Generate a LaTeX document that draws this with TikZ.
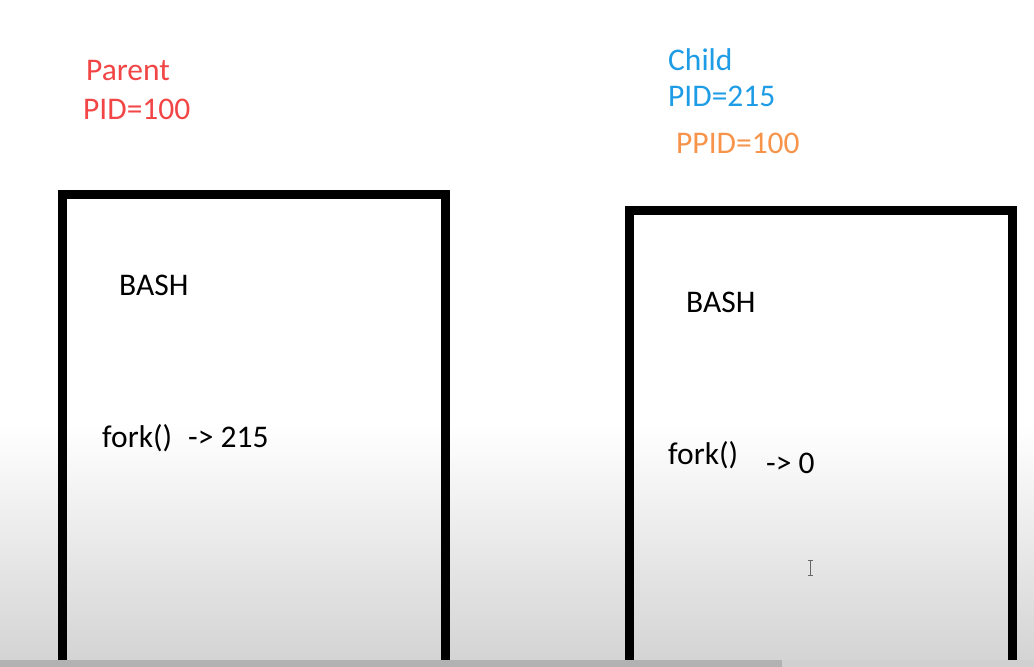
\documentclass[tikz,border=0pt]{standalone}
\usepackage{fontspec}
\setmainfont{Carlito}
\usepackage{tikz}
\definecolor{parentred}{HTML}{F24646}
\definecolor{childblue}{HTML}{1E9CE6}
\definecolor{ppidorange}{HTML}{F7944A}
\definecolor{floorgray}{HTML}{D4D4D4}
\definecolor{bargray}{HTML}{B2B2B2}
\definecolor{barlight}{HTML}{D0D0D0}
\tikzset{
    lbl/.style={inner sep=0pt,anchor=base west,font=\fontsize{31.5}{37}\selectfont},
    procbox/.style={draw,line width=9pt,rectangle,inner sep=0pt,minimum height=540pt}
}

\begin{document}
\begin{tikzpicture}[x=1pt,y=-1pt]
        \useasboundingbox (0,0) rectangle (1034,667);
        \clip (0,0) rectangle (1034,667);
        \fill[white] (0,0) rectangle (1034,667);
        \shade[top color=white,bottom color=floorgray] (0,425) rectangle (1034,660);

        \node[lbl,text=parentred] (parent) at (86,80) {Parent};
        \node[lbl,text=parentred] (parentpid) at (83,119.5) {PID=100};

        \node[lbl,text=childblue] (child) at (668,70) {Child};
        \node[lbl,text=childblue] (childpid) at (668,106.5) {PID=215};
        \node[lbl,text=ppidorange] (childppid) at (676,153) {PPID=100};

        \node[procbox,minimum width=383pt] (parentbox) at (254,464) {};
        \node[procbox,minimum width=383pt] (childbox) at (821,480.5) {};

        \node[lbl] (parentbash) at (119,295) {BASH};
        \node[lbl] (parentfork) at (102,447) {fork()};
        \node[lbl] (parentret) at (188,447) {-> 215};

        \node[lbl] (childbash) at (686,312) {BASH};
        \node[lbl] (childfork) at (668,464) {fork()};
        \node[lbl] (childret) at (766,473) {-> 0};

        % text cursor
        \draw[gray!80!black,line width=1pt] (810,560) -- (810,575)
            (807.5,560) -- (812.5,560) (807.5,575) -- (812.5,575);

        \fill[bargray] (0,660) rectangle (782,667);
        \fill[barlight] (782,660) rectangle (1034,667);
\end{tikzpicture}
\end{document}
